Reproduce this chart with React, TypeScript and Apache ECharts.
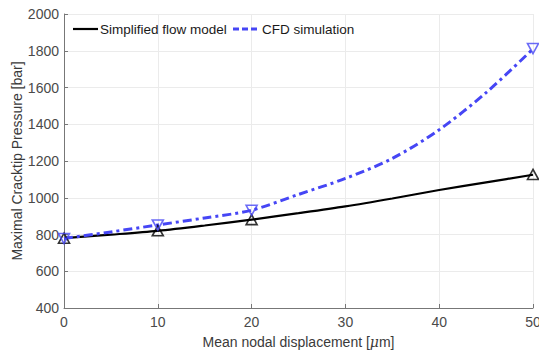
import React, { useEffect, useRef } from "react";
import * as echarts from "echarts";

// Measured data points (markers)
const markerX = [0, 10, 20, 50];
const simplifiedMarkers = [780, 820, 881, 1127];
const cfdMarkers = [778, 852, 932, 1812];

// Curves
const curveX = [0, 5, 10, 15, 20, 25, 30, 35, 40, 45, 50];
const simplifiedCurve = [780, 799, 820, 849, 881, 916, 953, 996, 1042, 1084, 1125];
const cfdCurve = [778, 814, 852, 890, 932, 1018, 1105, 1214, 1370, 1572, 1810];

const seriesNames = ["Simplified flow model", "CFD simulation"];

const xTicks = { min: 0, max: 50, interval: 10 };
const yTicks = { min: 400, max: 2000, interval: 200 };

const FONT = "Liberation Sans, Arial, Helvetica, sans-serif";
const BLUE = "#4646f5";

export default function App() {
  const ref = useRef<HTMLDivElement>(null);
  useEffect(() => {
    if (!ref.current) return;
    const chart = echarts.init(ref.current, undefined, { renderer: "svg" });
    const zip = (xs: number[], ys: number[]) => xs.map((x, i) => [x, ys[i]]);
    const legendY = 29;
    chart.setOption({
      animation: false,
      backgroundColor: "#ffffff",
      textStyle: { fontFamily: FONT },
      grid: { left: 64, right: 6, top: 14, bottom: 45, containLabel: false, outerBoundsMode: "none" },
      graphic: [
        {
          type: "line",
          shape: { x1: 73, y1: legendY, x2: 98, y2: legendY },
          style: { stroke: "#000", lineWidth: 2.2 },
          z: 10,
        },
        {
          type: "text",
          x: 100,
          y: legendY,
          style: { text: seriesNames[0], fontSize: 13.5, fontFamily: FONT, fill: "#1a1a1a", verticalAlign: "middle", align: "left" },
          z: 10,
        },
        {
          type: "line",
          shape: { x1: 233, y1: legendY, x2: 259, y2: legendY },
          style: { stroke: BLUE, lineWidth: 3, lineDash: [6, 3] },
          z: 10,
        },
        {
          type: "text",
          x: 262,
          y: legendY,
          style: { text: seriesNames[1], fontSize: 13.5, fontFamily: FONT, fill: "#1a1a1a", verticalAlign: "middle", align: "left" },
          z: 10,
        },
      ],
      xAxis: {
        type: "value",
        min: xTicks.min,
        max: xTicks.max,
        interval: xTicks.interval,
        name: "Mean nodal displacement [{i|μ}m]",
        nameLocation: "middle",
        nameGap: 27,
        nameMoveOverlap: false,
        nameTextStyle: {
          fontSize: 14,
          color: "#3a3a3a",
          fontFamily: FONT,
          rich: { i: { fontStyle: "italic", fontSize: 14, color: "#3a3a3a", fontFamily: "DejaVu Serif, serif" } },
        },
        axisLine: { show: true, lineStyle: { color: "#777", width: 1 } },
        axisTick: { show: true, inside: true, length: 4, lineStyle: { color: "#777" } },
        axisLabel: { fontSize: 14, color: "#4a4a4a", margin: 7, fontFamily: FONT, showMaxLabel: true },
        splitLine: { show: true, lineStyle: { color: "#ebebeb", width: 1 } },
      },
      yAxis: {
        type: "value",
        min: yTicks.min,
        max: yTicks.max,
        interval: yTicks.interval,
        name: "Maximal Cracktip Pressure [bar]",
        nameLocation: "middle",
        nameGap: 40,
        nameMoveOverlap: false,
        nameTextStyle: { fontSize: 14, color: "#3a3a3a", fontFamily: FONT },
        axisLine: { show: true, lineStyle: { color: "#777", width: 1 } },
        axisTick: { show: true, inside: true, length: 4, lineStyle: { color: "#777" } },
        axisLabel: { fontSize: 14, color: "#4a4a4a", margin: 5, fontFamily: FONT, formatter: (v: number) => String(v) },
        splitLine: { show: true, lineStyle: { color: "#ebebeb", width: 1 } },
      },
      series: [
        {
          name: seriesNames[0],
          type: "line",
          data: zip(curveX, simplifiedCurve),
          smooth: 0.3,
          symbol: "none",
          lineStyle: { color: "#000", width: 2.2 },
          itemStyle: { color: "#000" },
          z: 3,
        },
        {
          name: seriesNames[1],
          type: "line",
          data: zip(curveX, cfdCurve),
          smooth: 0.3,
          symbol: "none",
          lineStyle: { color: BLUE, width: 3, type: [9, 4, 3, 4] },
          itemStyle: { color: BLUE },
          z: 4,
        },
        {
          name: "simplified-markers",
          type: "scatter",
          data: zip(markerX, simplifiedMarkers),
          symbol: "triangle",
          symbolSize: [11, 10],
          itemStyle: { color: "rgba(0,0,0,0)", borderColor: "#000", borderWidth: 1.6 },
          z: 5,
        },
        {
          name: "cfd-markers",
          type: "scatter",
          data: zip(markerX, cfdMarkers),
          symbol: "triangle",
          symbolRotate: 180,
          symbolSize: [11, 10],
          itemStyle: { color: "rgba(0,0,0,0)", borderColor: BLUE, borderWidth: 1.6 },
          z: 6,
        },
      ],
    });
    return () => chart.dispose();
  }, []);
  return <div ref={ref} style={{ width: 539, height: 353, position: "absolute", left: 0, top: 0 }} />;
}
